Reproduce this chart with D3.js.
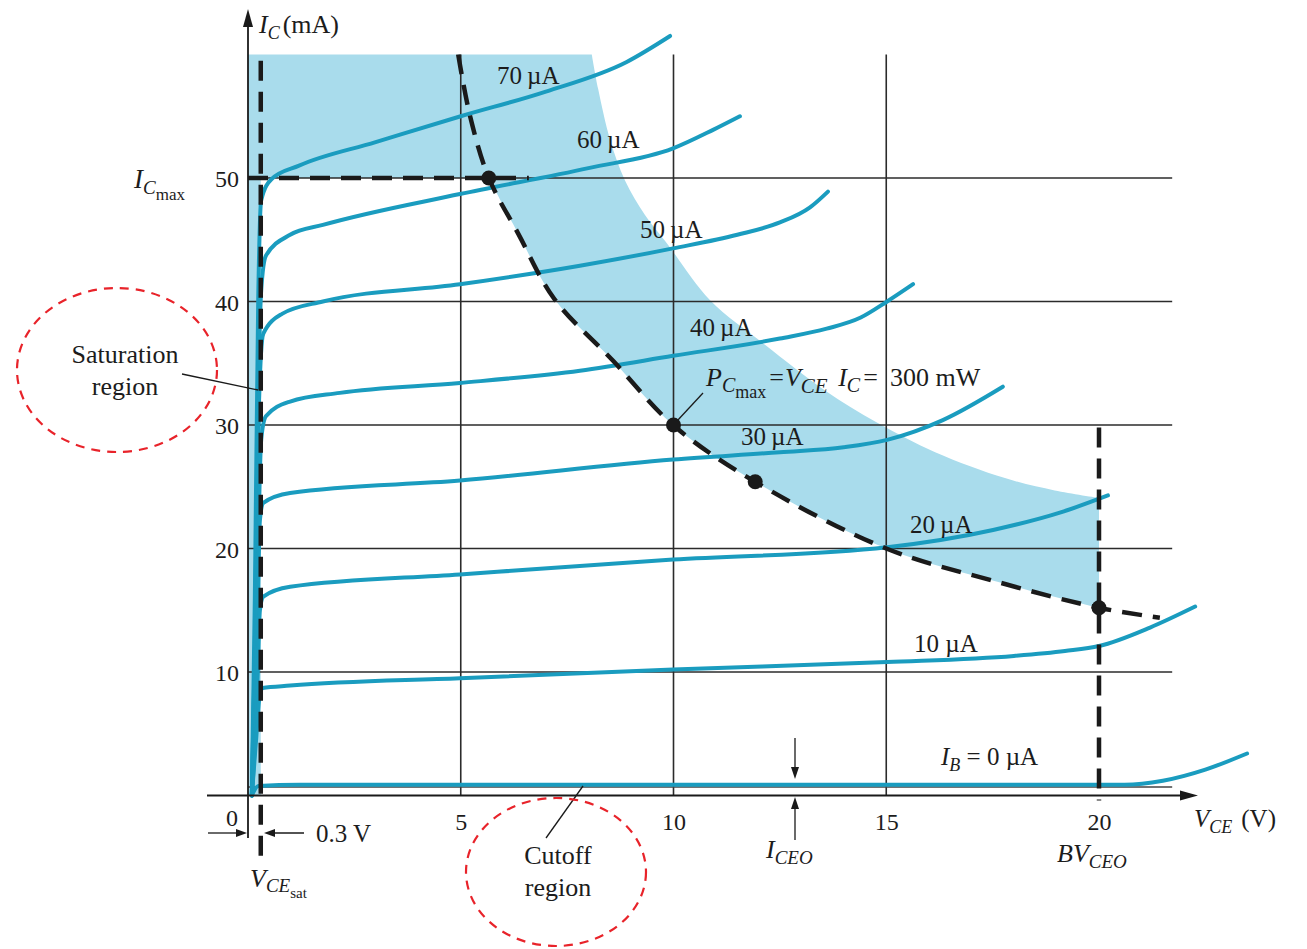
<!DOCTYPE html>
<html>
<head>
<meta charset="utf-8">
<script src="https://cdnjs.cloudflare.com/ajax/libs/d3/7.8.5/d3.min.js"></script>
<style>
  body { margin: 0; background: #fff; }
  svg text { font-family: "Liberation Serif", "Times New Roman", serif; fill: #1c1c1c; }
</style>
</head>
<body>
<div id="chart"></div>
<script>
// ---- data (V_CE in volts, I_C in mA) ----
var xTickVals = [5, 10, 15, 20];
var yTickVals = [10, 20, 30, 40, 50];
var xGridVals = [5, 10, 15];
var gridRight = 21.72;   // where the horizontal grid stops (V)
var gridTop = 60;        // top of the plot area (mA)
var iceo = 0.69;         // leakage line I_CEO (mA)
var vceSat = 0.3;
var icMax = 50;
var bvCeo = 20;

var ib70 = [[0.09, 0], [0.16, 15.8], [0.24, 40.1], [0.31, 48.2], [0.55, 49.9], [1.2, 51.0], [3.0, 52.9], [5.0, 55.0], [7.0, 57.0], [8.9, 59.4], [9.92, 61.5]];
var ib60 = [[0.09, 0], [0.16, 11.8], [0.24, 32.0], [0.31, 40.9], [0.42, 43.7], [0.99, 45.4], [1.76, 46.2], [4.98, 48.7], [8.0, 50.8], [9.99, 52.4], [10.93, 53.9], [11.56, 55.0]];
var ib50 = [[0.09, 0], [0.19, 15.8], [0.26, 32.0], [0.36, 37.4], [0.8, 39.0], [1.76, 40.0], [4.98, 41.4], [7.8, 42.9], [9.99, 44.3], [11.5, 45.4], [12.5, 46.4], [13.2, 47.6], [13.63, 48.9]];
var ib40 = [[0.09, 0], [0.21, 15.8], [0.31, 28.8], [0.42, 30.7], [0.99, 31.9], [2.16, 32.6], [4.98, 33.4], [7.8, 34.4], [9.99, 35.6], [12.5, 37.0], [13.6, 37.8], [14.4, 38.7], [15.02, 40.0], [15.63, 41.4]];
var ib30 = [[0.09, 0], [0.21, 11.8], [0.28, 22.3], [0.36, 23.7], [0.99, 24.5], [4.98, 25.5], [9.99, 27.2], [12.5, 27.8], [14.0, 28.2], [15.02, 28.8], [16.33, 30.4], [17.74, 33.1]];
var ib20 = [[0.09, 0], [0.21, 7.7], [0.28, 15.0], [0.36, 16.1], [0.99, 16.9], [4.98, 17.9], [9.99, 19.1], [15.02, 20.1], [17.51, 21.5], [19.08, 22.9], [20.21, 24.3]];
var ib10 = [[0.09, 0], [0.19, 4.5], [0.26, 7.7], [0.34, 8.7], [0.99, 8.9], [4.98, 9.5], [9.99, 10.2], [15.02, 10.8], [18.0, 11.3], [19.2, 11.7], [20.0, 12.1], [21.2, 13.6], [22.26, 15.3]];
var ib0 = [[0.09, 0], [0.24, 0.77], [1.22, 0.88], [10.62, 0.88], [20.6, 0.88], [21.5, 1.2], [22.5, 2.1], [23.48, 3.4]];
var ibCurves = [ib70, ib60, ib50, ib40, ib30, ib20, ib10, ib0];
var ibNames = ["70\u2009µA", "60\u2009µA", "50\u2009µA", "40\u2009µA", "30\u2009µA", "20\u2009µA", "10 µA"];

// P_Cmax = 300 mW boundary, as drawn
var pmaxCurve = [[4.94, 60], [5.22, 55.0], [5.66, 50.0], [6.35, 45.5], [7.2, 40.2], [8.58, 35.2], [9.99, 30.0], [11.92, 25.4], [15.0, 20.0], [17.5, 17.4], [20.0, 15.2], [21.43, 14.4]];
var pmaxDots = [[5.66, 50.0], [10.0, 30.0], [11.92, 25.4], [20.0, 15.2]];
// outer edge of the shaded band
var shadeEdge = [[8.08, 60], [8.23, 57.2], [8.51, 53.1], [8.86, 49.8], [9.33, 47.0], [9.87, 44.6], [10.86, 40.1], [12.15, 36.5], [13.56, 32.8], [14.78, 30.2], [16.15, 27.8], [17.79, 25.7], [18.96, 24.7], [20.0, 24.1]];

// ---- layout ----
var svgWidth = 1307;
var svgHeight = 949;
var teal = "#1a9cbf";
var shadeColor = "#a9dcec";
var ink = "#1a1a1a";

// curve label anchors (pixels: left edge, baseline)
var ibLabelPos = [[497, 84], [577, 148], [640, 238], [690, 336], [741, 445], [910, 533], [914, 652]];

var svg = d3.select("#chart")
  .append("svg")
  .attr("width", svgWidth)
  .attr("height", svgHeight);

var x = d3.scaleLinear().domain([0, 20]).range([248, 1099]);
var y = d3.scaleLinear().domain([0, 50]).range([795.5, 178]);

var smooth = d3.line()
  .x(d => x(d[0]))
  .y(d => y(d[1]))
  .curve(d3.curveCatmullRom.alpha(0.5));

var monotone = d3.line()
  .x(d => x(d[0]))
  .y(d => y(d[1]))
  .curve(d3.curveMonotoneX);

function pt(v, i) { return x(v) + "," + y(i); }

// shaded area: saturation strip + region above I_Cmax + band beyond P_Cmax
var hypInner = pmaxCurve.filter(d => d[0] >= pmaxDots[0][0] && d[0] <= bvCeo).reverse();
var shadePath = "M" + pt(0, gridTop)
  + smooth(shadeEdge).replace(/^M/, "L")
  + smooth(hypInner).replace(/^M/, "L")
  + "L" + pt(vceSat, icMax) + "L" + pt(vceSat, 0) + "L" + pt(0, 0) + "Z";

svg.append("path")
  .attr("d", shadePath)
  .attr("fill", shadeColor);

// grid
var grid = svg.append("g").attr("stroke", "#2b2b2b").attr("stroke-width", 1.6);
grid.selectAll(".hgrid")
  .data(yTickVals)
  .enter()
  .append("line")
  .attr("x1", x(0)).attr("x2", x(gridRight))
  .attr("y1", d => y(d)).attr("y2", d => y(d));
grid.selectAll(".vgrid")
  .data(xGridVals)
  .enter()
  .append("line")
  .attr("x1", d => x(d)).attr("x2", d => x(d))
  .attr("y1", y(0)).attr("y2", y(gridTop));
// I_CEO line
grid.append("line")
  .attr("x1", x(0)).attr("x2", x(gridRight))
  .attr("y1", y(iceo)).attr("y2", y(iceo))
  .attr("stroke", "#444");

// characteristic curves
svg.append("g")
  .selectAll("path")
  .data(ibCurves)
  .enter()
  .append("path")
  .attr("d", monotone)
  .attr("fill", "none")
  .attr("stroke", teal)
  .attr("stroke-width", 4)
  .attr("stroke-linecap", "round");

// dashed limit lines
var dash = svg.append("g")
  .attr("fill", "none")
  .attr("stroke", ink)
  .attr("stroke-width", 4.5)
  .attr("stroke-dasharray", "20,11");
dash.append("path").attr("d", smooth(pmaxCurve));
dash.append("line")
  .attr("x1", x(0)).attr("x2", x(6.6))
  .attr("y1", y(icMax)).attr("y2", y(icMax));
dash.append("line")
  .attr("x1", x(vceSat)).attr("x2", x(vceSat))
  .attr("y1", y(59.5)).attr("y2", y(-5.1));
dash.append("line")
  .attr("x1", x(bvCeo)).attr("x2", x(bvCeo))
  .attr("y1", y(29.8)).attr("y2", y(-0.4));

svg.append("g")
  .selectAll("circle")
  .data(pmaxDots)
  .enter()
  .append("circle")
  .attr("cx", d => x(d[0]))
  .attr("cy", d => y(d[1]))
  .attr("r", 7.5)
  .attr("fill", ink);

// axes lines with arrows
var axes = svg.append("g").attr("stroke", ink).attr("stroke-width", 1.8);
axes.append("line").attr("x1", x(0)).attr("x2", x(0)).attr("y1", 838).attr("y2", 20);
axes.append("line").attr("x1", 207).attr("x2", 1188).attr("y1", y(0)).attr("y2", y(0));
svg.append("path").attr("d", `M${x(0)},9 L${x(0) - 5},27 L${x(0) + 5},27 Z`).attr("fill", ink);
svg.append("path").attr("d", `M1198,${y(0)} L1180,${y(0) - 5} L1180,${y(0) + 5} Z`).attr("fill", ink);

// tick labels
var leftAxis = d3.axisLeft(y).tickValues(yTickVals).tickSize(0).tickPadding(9);
svg.append("g")
  .attr("transform", `translate(${x(0)},0)`)
  .call(leftAxis)
  .call(g => g.select(".domain").remove())
  .attr("font-family", null)
  .attr("font-size", 24)
  .selectAll("text").attr("dy", "0.36em");

var bottomAxis = d3.axisBottom(x).tickValues(xTickVals).tickSize(0).tickPadding(17);
svg.append("g")
  .attr("transform", `translate(0,${y(0)})`)
  .call(bottomAxis)
  .call(g => g.select(".domain").remove())
  .attr("font-family", null)
  .attr("font-size", 24);

svg.append("text").attr("x", 232).attr("y", 826).attr("text-anchor", "middle")
  .attr("font-size", 24).text("0");

// curve labels
svg.append("g")
  .selectAll("text")
  .data(ibNames)
  .enter()
  .append("text")
  .attr("x", (d, i) => ibLabelPos[i][0])
  .attr("y", (d, i) => ibLabelPos[i][1])
  .attr("font-size", 25)
  .text(d => d);

// rich labels built from tspans
function rich(xp, yp, parts, size) {
  var t = svg.append("text").attr("x", xp).attr("y", yp).attr("font-size", size);
  parts.forEach(function(p) {
    t.append("tspan")
      .attr("font-style", p.i ? "italic" : null)
      .attr("font-size", p.s || null)
      .attr("dy", p.dy || null)
      .attr("dx", p.dx || null)
      .text(p.t);
  });
  return t;
}

rich(259, 33, [{t: "I", i: 1}, {t: "C", i: 1, s: 18, dy: 6}, {t: "(mA)", dy: -6, dx: 3}], 26);
rich(134, 188, [{t: "I", i: 1}, {t: "C", i: 1, s: 19, dy: 6}, {t: "max", s: 17, dy: 6}], 27);
rich(1194, 827, [{t: "V", i: 1}, {t: "CE", i: 1, s: 18, dy: 6}, {t: "(V)", dy: -6, dx: 9}], 25);
rich(941, 765, [{t: "I", i: 1}, {t: "B", i: 1, s: 18, dy: 6}, {t: " = 0 µA", dy: -6}], 25);
rich(766, 858, [{t: "I", i: 1}, {t: "CEO", i: 1, s: 19, dy: 6}], 26);
rich(1057, 862, [{t: "BV", i: 1}, {t: "CEO", i: 1, s: 19, dy: 6}], 26);
rich(250, 887, [{t: "V", i: 1}, {t: "CE", i: 1, s: 19, dy: 5}, {t: "sat", s: 15, dy: 6}], 26);
rich(706, 386, [{t: "P", i: 1}, {t: "C", i: 1, s: 20, dy: 6}, {t: "max", s: 18, dy: 6},
  {t: "=", dy: -12, dx: 3}, {t: "V", i: 1, dx: 1}, {t: "CE", i: 1, s: 21, dy: 7},
  {t: " I", i: 1, dy: -7, dx: 4}, {t: "C", i: 1, s: 20, dy: 6}, {t: "=", dy: -6, dx: 3}], 26);
svg.append("text").attr("x", 890).attr("y", 386).attr("font-size", 26).text("300 mW");

svg.append("text").attr("x", 316).attr("y", 842).attr("font-size", 25).text("0.3 V");

// region annotations
svg.append("text").attr("x", 125).attr("y", 363).attr("text-anchor", "middle").attr("font-size", 26).text("Saturation");
svg.append("text").attr("x", 125).attr("y", 395).attr("text-anchor", "middle").attr("font-size", 26).text("region");
svg.append("text").attr("x", 558).attr("y", 864).attr("text-anchor", "middle").attr("font-size", 26).text("Cutoff");
svg.append("text").attr("x", 558).attr("y", 896).attr("text-anchor", "middle").attr("font-size", 26).text("region");

var thin = svg.append("g").attr("stroke", ink).attr("stroke-width", 1.3).attr("fill", "none");
thin.append("line").attr("x1", 182).attr("y1", 374).attr("x2", 258).attr("y2", 390);
thin.append("line").attr("x1", 546).attr("y1", 838).attr("x2", 583).attr("y2", 786);
thin.append("line").attr("x1", 677).attr("y1", 421).attr("x2", 703).attr("y2", 393);
// I_CEO arrows
thin.append("line").attr("x1", 795).attr("y1", 738).attr("x2", 795).attr("y2", 770);
thin.append("line").attr("x1", 795).attr("y1", 840).attr("x2", 795).attr("y2", 805);
// 0.3 V arrows
thin.append("line").attr("x1", 208).attr("y1", 833).attr("x2", 240).attr("y2", 833);
thin.append("line").attr("x1", 270).attr("y1", 833).attr("x2", 304).attr("y2", 833);

var heads = [
  `M795,779 L791,767 L799,767 Z`,
  `M795,797 L791,809 L799,809 Z`,
  `M247,833 L236,829 L236,837 Z`,
  `M264,833 L275,829 L275,837 Z`
];
svg.append("g").selectAll("path").data(heads).enter().append("path")
  .attr("d", d => d).attr("fill", ink);

// red dashed ellipses
var red = svg.append("g")
  .attr("fill", "none")
  .attr("stroke", "#e8232a")
  .attr("stroke-width", 2.2)
  .attr("stroke-dasharray", "9,7");
red.append("ellipse").attr("cx", 117).attr("cy", 370).attr("rx", 100).attr("ry", 82);
red.append("ellipse").attr("cx", 556).attr("cy", 872).attr("rx", 90).attr("ry", 74);
</script>
</body>
</html>
